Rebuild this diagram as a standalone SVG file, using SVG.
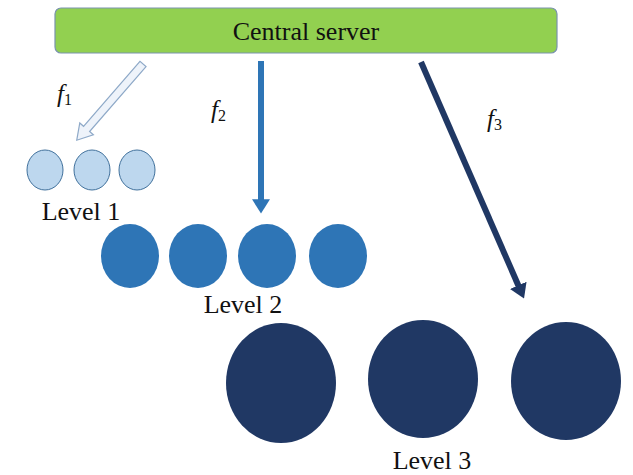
<svg xmlns="http://www.w3.org/2000/svg" width="633" height="475" viewBox="0 0 633 475">
  <style>
    .lbl { font-family: "Liberation Serif", "Times New Roman", serif; font-size: 26px; fill: #111; }
    .f { font-family: "Liberation Serif", "Times New Roman", serif; font-size: 25px; font-style: italic; fill: #111; }
    .sub { font-style: normal; font-size: 16px; }
    .l1 { fill: #bdd7ee; stroke: #41719c; stroke-width: 1; }
    .l2 { fill: #2e75b6; }
    .l3 { fill: #203864; }
  </style>
  <defs>
    <marker id="head2" viewBox="0 0 8 10" refX="1" refY="5" markerWidth="2.4" markerHeight="3" orient="auto" markerUnits="strokeWidth">
      <path d="M0,0 L8,5 L0,10 Z" fill="#2e75b6"/>
    </marker>
    <marker id="head3" viewBox="0 0 8 10" refX="1" refY="5" markerWidth="2.4" markerHeight="3" orient="auto" markerUnits="strokeWidth">
      <path d="M0,0 L8,5 L0,10 Z" fill="#203864"/>
    </marker>
  </defs>

  <rect width="633" height="475" fill="#ffffff"/>

  <!-- server -->
  <g id="server">
    <rect x="55" y="8" width="502" height="45" rx="6" fill="#92d050" stroke="#7a93ad" stroke-width="1.2"/>
    <text class="lbl" x="306" y="40" text-anchor="middle">Central server</text>
  </g>

  <!-- connectors -->
  <g id="connectors">
    <g id="f1" transform="translate(143,64) rotate(131)">
      <polygon points="0,-4 86,-4 86,-9 101,0 86,9 86,4 0,4" fill="#eef3fa" stroke="#8ea9c8" stroke-width="1.2"/>
    </g>
    <line id="f2" x1="261" y1="61" x2="261" y2="201" stroke="#2e75b6" stroke-width="6" marker-end="url(#head2)"/>
    <line id="f3" x1="421" y1="62" x2="519" y2="287" stroke="#203864" stroke-width="6" marker-end="url(#head3)"/>
    <text class="f" x="57" y="102">f<tspan class="sub" dy="3">1</tspan></text>
    <text class="f" x="211" y="118">f<tspan class="sub" dy="3">2</tspan></text>
    <text class="f" x="487" y="127">f<tspan class="sub" dy="3">3</tspan></text>
  </g>

  <!-- level 1 -->
  <g id="level1">
    <ellipse class="l1" cx="45" cy="170" rx="18" ry="20"/>
    <ellipse class="l1" cx="92" cy="170" rx="18" ry="20"/>
    <ellipse class="l1" cx="137" cy="170" rx="18" ry="20"/>
    <text class="lbl" x="81" y="220" text-anchor="middle">Level 1</text>
  </g>

  <!-- level 2 -->
  <g id="level2">
    <ellipse class="l2" cx="130" cy="256" rx="29" ry="32"/>
    <ellipse class="l2" cx="198" cy="256" rx="29" ry="32"/>
    <ellipse class="l2" cx="267" cy="256" rx="29" ry="32"/>
    <ellipse class="l2" cx="338" cy="256" rx="29" ry="32"/>
    <text class="lbl" x="243" y="313" text-anchor="middle">Level 2</text>
  </g>

  <!-- level 3 -->
  <g id="level3">
    <ellipse class="l3" cx="281" cy="383" rx="55" ry="60"/>
    <ellipse class="l3" cx="423" cy="379" rx="55" ry="59"/>
    <ellipse class="l3" cx="566" cy="381" rx="55" ry="59"/>
    <text class="lbl" x="432" y="469" text-anchor="middle">Level 3</text>
  </g>
</svg>
